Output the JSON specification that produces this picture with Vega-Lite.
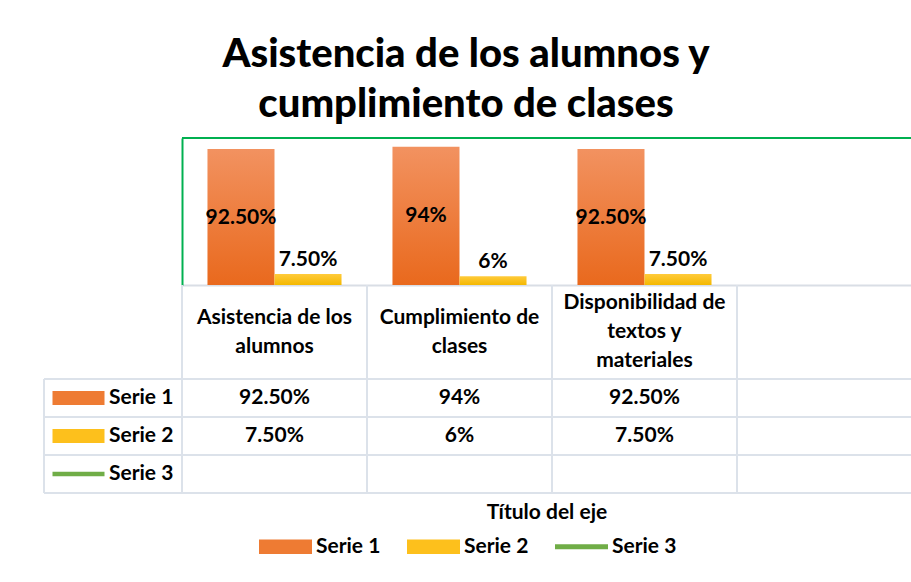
{
  "$schema": "https://vega.github.io/schema/vega-lite/v6.json",
  "padding": {"left": 43, "top": 35, "right": 0, "bottom": 0},
  "autosize": {"type": "pad"},
  "background": "white",
  "bounds": "flush",
  "spacing": 0,
  "columns": 2,
  "config": {
    "font": "Lato",
    "view": {"stroke": null},
    "text": {"font": "Lato", "fontWeight": "bold", "fontSize": 21, "color": "#000000"}
  },
  "title": {
    "text": ["Asistencia de los alumnos y", "cumplimiento de clases"],
    "fontSize": 40,
    "fontWeight": 900,
    "font": "Lato",
    "color": "#000000",
    "anchor": "middle",
    "lineHeight": 50,
    "offset": 12,
    "dx": -12
  },
  "datasets": {
    "vals": [
      {"cat": "Asistencia de los alumnos", "serie": "Serie 1", "value": 92.5, "label": "92.50%"},
      {"cat": "Asistencia de los alumnos", "serie": "Serie 2", "value": 7.5, "label": "7.50%"},
      {"cat": "Cumplimiento de clases", "serie": "Serie 1", "value": 94, "label": "94%"},
      {"cat": "Cumplimiento de clases", "serie": "Serie 2", "value": 6, "label": "6%"},
      {"cat": "Disponibilidad de textos y materiales", "serie": "Serie 1", "value": 92.5, "label": "92.50%"},
      {"cat": "Disponibilidad de textos y materiales", "serie": "Serie 2", "value": 7.5, "label": "7.50%"}
    ],
    "cats": [
      {"cat": "Asistencia de los alumnos", "header": "Asistencia de los\nalumnos", "lines": 2},
      {"cat": "Cumplimiento de clases", "header": "Cumplimiento de\nclases", "lines": 2},
      {"cat": "Disponibilidad de textos y materiales", "header": "Disponibilidad de\ntextos y\nmateriales", "lines": 3}
    ],
    "series": [{"serie": "Serie 1"}, {"serie": "Serie 2"}, {"serie": "Serie 3"}]
  },
  "concat": [
    {
      "width": 138, "height": 147,
      "data": {"name": "series"},
      "mark": {"type": "text", "text": ""}
    },
    {
      "width": 730, "height": 147,
      "data": {"name": "vals"},
      "encoding": {
        "x": {"field": "cat", "type": "nominal", "sort": null,
              "scale": {"type": "band", "domain": ["Asistencia de los alumnos", "Cumplimiento de clases", "Disponibilidad de textos y materiales"], "paddingInner": 0, "paddingOuter": 0.473, "align": 0},
              "axis": {"orient": "bottom", "labels": false, "ticks": false, "title": null, "domainColor": "#D9DEE5", "domainWidth": 2, "grid": false}},
        "xOffset": {"field": "serie", "type": "nominal", "scale": {"domain": ["Serie 1", "Serie 2"], "paddingInner": 0, "paddingOuter": 0.38}},
        "y": {"field": "value", "type": "quantitative", "scale": {"domain": [0, 100], "nice": false, "zero": true},
              "axis": {"labels": false, "ticks": false, "title": null, "grid": false, "domainColor": "#00B050", "domainWidth": 2}}
      },
      "layer": [
        {
          "transform": [{"filter": "datum.serie === 'Serie 1'"}],
          "mark": {"type": "bar", "fill": {"gradient": "linear", "x1": 0, "y1": 0, "x2": 0, "y2": 1, "stops": [{"offset": 0, "color": "#F29260"}, {"offset": 1, "color": "#E9691D"}]}}
        },
        {
          "transform": [{"filter": "datum.serie === 'Serie 2'"}],
          "mark": {"type": "bar", "fill": {"gradient": "linear", "x1": 0, "y1": 0, "x2": 0, "y2": 1, "stops": [{"offset": 0, "color": "#FFCB3C"}, {"offset": 1, "color": "#F4B800"}]}}
        },
        {
          "transform": [{"filter": "datum.serie === 'Serie 1'"}],
          "mark": {"type": "text", "baseline": "middle", "dy": 69, "fontSize": 21},
          "encoding": {"text": {"field": "label"}}
        },
        {
          "transform": [{"filter": "datum.serie === 'Serie 2'"}],
          "mark": {"type": "text", "baseline": "bottom", "dy": -4, "fontSize": 21},
          "encoding": {"text": {"field": "label"}}
        },
        {
          "mark": {"type": "rule", "color": "#00B050", "strokeWidth": 2},
          "encoding": {"y": {"datum": 100, "type": "quantitative"}, "x": null, "xOffset": null}
        }
      ]
    },
    {
      "width": 138, "height": 94,
      "data": {"name": "series"},
      "mark": {"type": "text", "text": ""}
    },
    {
      "width": 730, "height": 94,
      "data": {"name": "cats"},
      "encoding": {
        "x": {"field": "cat", "type": "nominal", "sort": null,
              "scale": {"type": "band", "domain": ["Asistencia de los alumnos", "Cumplimiento de clases", "Disponibilidad de textos y materiales"], "paddingInner": 0, "paddingOuter": 0.473, "align": 0},
              "axis": null}
      },
      "layer": [
        {
          "transform": [{"filter": "datum.lines === 2"}],
          "mark": {"type": "text", "lineBreak": "\n", "lineHeight": 29, "baseline": "middle", "dy": -14.5, "fontSize": 21},
          "encoding": {"text": {"field": "header"}}
        },
        {
          "transform": [{"filter": "datum.lines === 3"}],
          "mark": {"type": "text", "lineBreak": "\n", "lineHeight": 29, "baseline": "middle", "dy": -29, "fontSize": 21},
          "encoding": {"text": {"field": "header"}}
        },
        {
          "mark": {"type": "rule", "color": "#DCE2EA", "strokeWidth": 2},
          "encoding": {"x": {"field": "cat", "type": "nominal", "sort": null, "bandPosition": 0, "axis": null}}
        },
        {
          "mark": {"type": "rule", "color": "#DCE2EA", "strokeWidth": 2},
          "encoding": {"x": {"field": "cat", "type": "nominal", "sort": null, "bandPosition": 1, "axis": null}}
        }
      ]
    },
    {
      "width": 138, "height": 114,
      "data": {"name": "series"},
      "encoding": {
        "y": {"field": "serie", "type": "nominal", "scale": {"type": "band", "domain": ["Serie 1", "Serie 2", "Serie 3"], "paddingInner": 0, "paddingOuter": 0}, "axis": null}
      },
      "layer": [
        {
          "mark": {"type": "rule", "color": "#DCE2EA", "strokeWidth": 2},
          "encoding": {"y": {"field": "serie", "type": "nominal", "bandPosition": 0, "axis": null}}
        },
        {
          "mark": {"type": "rule", "color": "#DCE2EA", "strokeWidth": 2},
          "encoding": {"y": {"field": "serie", "type": "nominal", "bandPosition": 1, "axis": null}}
        },
        {
          "mark": {"type": "rule", "color": "#DCE2EA", "strokeWidth": 2},
          "encoding": {"y": null, "x": {"datum": "sym", "type": "nominal", "bandPosition": 0, "scale": {"type": "band", "domain": ["sym", "lab"], "paddingInner": 0, "paddingOuter": 0}, "axis": null}}
        },
        {
          "mark": {"type": "rule", "color": "#DCE2EA", "strokeWidth": 2},
          "encoding": {"y": null, "x": {"datum": "lab", "type": "nominal", "bandPosition": 1, "axis": null}}
        },
        {
          "mark": {"type": "point", "filled": true, "opacity": 1, "size": 2704, "strokeWidth": 0},
          "encoding": {
            "x": {"datum": "sym", "type": "nominal", "axis": null},
            "color": {"field": "serie", "type": "nominal",
                      "scale": {"domain": ["Serie 1", "Serie 2", "Serie 3"], "range": ["#EE7B33", "#FDC01C", "#70AD47"]},
                      "legend": {"orient": "none", "legendX": 215, "legendY": 382, "direction": "horizontal", "title": null,
                                 "labelFont": "Lato", "labelFontSize": 21, "labelFontWeight": "bold", "labelColor": "#000000",
                                 "symbolSize": 2809, "symbolOpacity": 1, "symbolStrokeWidth": 0, "labelOffset": 4, "columnPadding": 26}},
            "shape": {"field": "serie", "type": "nominal",
                      "scale": {"domain": ["Serie 1", "Serie 2", "Serie 3"], "range": ["M-1,-0.27H1V0.27H-1Z", "M-1,-0.27H1V0.27H-1Z", "M-1,-0.09H1V0.09H-1Z"]},
                      "legend": {"orient": "none", "legendX": 215, "legendY": 382, "direction": "horizontal", "title": null,
                                 "labelFont": "Lato", "labelFontSize": 21, "labelFontWeight": "bold", "labelColor": "#000000",
                                 "symbolSize": 2809, "symbolOpacity": 1, "symbolStrokeWidth": 0, "labelOffset": 4, "columnPadding": 26}}
          }
        },
        {
          "mark": {"type": "text", "align": "left", "baseline": "middle", "dx": -4, "fontSize": 21},
          "encoding": {
            "x": {"datum": "lab", "type": "nominal", "bandPosition": 0, "axis": null},
            "text": {"field": "serie"}
          }
        }
      ]
    },
    {
      "width": 730, "height": 114,
      "title": {"text": "Título del eje", "orient": "bottom", "anchor": "middle", "font": "Lato", "fontSize": 21, "fontWeight": "bold", "color": "#000000", "offset": 8},
      "layer": [
        {
          "data": {"name": "vals"},
          "mark": {"type": "text", "baseline": "middle", "fontSize": 21},
          "encoding": {
            "x": {"field": "cat", "type": "nominal", "sort": null,
                  "scale": {"type": "band", "domain": ["Asistencia de los alumnos", "Cumplimiento de clases", "Disponibilidad de textos y materiales"], "paddingInner": 0, "paddingOuter": 0.473, "align": 0},
                  "axis": null},
            "y": {"field": "serie", "type": "nominal", "scale": {"type": "band", "domain": ["Serie 1", "Serie 2", "Serie 3"], "paddingInner": 0, "paddingOuter": 0}, "axis": null},
            "text": {"field": "label"}
          }
        },
        {
          "data": {"name": "series"},
          "mark": {"type": "rule", "color": "#DCE2EA", "strokeWidth": 2},
          "encoding": {"y": {"field": "serie", "type": "nominal", "bandPosition": 0, "axis": null}}
        },
        {
          "data": {"name": "series"},
          "mark": {"type": "rule", "color": "#DCE2EA", "strokeWidth": 2},
          "encoding": {"y": {"field": "serie", "type": "nominal", "bandPosition": 1, "axis": null}}
        },
        {
          "data": {"name": "cats"},
          "mark": {"type": "rule", "color": "#DCE2EA", "strokeWidth": 2},
          "encoding": {"x": {"field": "cat", "type": "nominal", "sort": null, "bandPosition": 0, "axis": null}}
        },
        {
          "data": {"name": "cats"},
          "mark": {"type": "rule", "color": "#DCE2EA", "strokeWidth": 2},
          "encoding": {"x": {"field": "cat", "type": "nominal", "sort": null, "bandPosition": 1, "axis": null}}
        }
      ]
    }
  ]
}
